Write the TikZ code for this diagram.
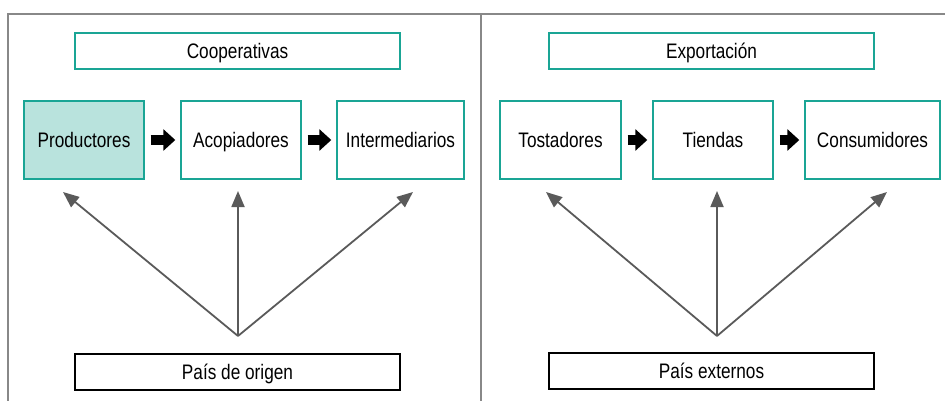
\documentclass[tikz,border=0pt]{standalone}
\usepackage{fontspec}
\setmainfont{Liberation Sans}[FakeStretch=0.82]
\usetikzlibrary{arrows.meta}
\definecolor{teal1}{HTML}{1AA595}
\definecolor{tealfill}{HTML}{B9E3DD}
\definecolor{arrowgray}{HTML}{5A5A5A}
\definecolor{framegray}{HTML}{888888}
\begin{document}
\begin{tikzpicture}[x=1pt,y=-1pt,
  txt/.style={inner sep=0pt, text height=15pt, text depth=0pt, font=\fontsize{21}{24}\selectfont},
  tbox/.style={txt, draw=teal1, line width=1.4pt, minimum width=#1, minimum height=78pt},
  hbox/.style={txt, draw=teal1, line width=1.4pt, minimum width=325pt, minimum height=36pt},
  bbox/.style={txt, draw=black, line width=1.3pt, minimum width=325pt, minimum height=36pt},
  blockarrow/.style={line width=10pt, -{Triangle[length=12pt,width=21pt]}, shorten <=6pt, shorten >=5pt},
  grayarrow/.style={draw=arrowgray, line width=1.8pt, -{Triangle[length=16pt,width=13pt]}},
  frame/.style={draw=framegray, line width=1.4pt}]
\useasboundingbox (0,0) rectangle (945,401);
% frame
\coordinate (ftl) at (8,14);
\coordinate (ftr) at (945,14);
\coordinate (fbl) at (8,401);
\coordinate (dt) at (481,14);
\coordinate (db) at (481,401);
\draw[frame] (fbl) -- (ftl) -- (ftr);
\draw[frame] (dt) -- (db);
% left half
\node[hbox] (coop) at (237.5,51) {Cooperativas};
\node[tbox=120pt, fill=tealfill] (prod) at (84,140) {Productores};
\node[tbox=120pt] (acop) at (241,140) {Acopiadores};
\node[tbox=127pt] (inter) at (400.5,140) {Intermediarios};
\node[bbox] (origen) at (237.5,372) {País de origen};
\draw[blockarrow] (prod.east) -- (acop.west);
\draw[blockarrow] (acop.east) -- (inter.west);
\coordinate (apexL) at (238,336);
\coordinate (tL1) at (63,192);
\coordinate (tL2) at (238,191);
\coordinate (tL3) at (413,192);
\draw[grayarrow] (apexL) -- (tL1);
\draw[grayarrow] (apexL) -- (tL2);
\draw[grayarrow] (apexL) -- (tL3);
% right half
\node[hbox] (expo) at (711.5,51) {Exportación};
\node[tbox=121pt] (tost) at (560.5,140) {Tostadores};
\node[tbox=120pt] (tien) at (713,140) {Tiendas};
\node[tbox=135pt] (cons) at (872.5,140) {Consumidores};
\node[bbox] (externos) at (711.5,371) {País externos};
\draw[blockarrow] (tost.east) -- (tien.west);
\draw[blockarrow] (tien.east) -- (cons.west);
\coordinate (apexR) at (717,336);
\coordinate (tR1) at (546,192);
\coordinate (tR2) at (717,191);
\coordinate (tR3) at (887,192);
\draw[grayarrow] (apexR) -- (tR1);
\draw[grayarrow] (apexR) -- (tR2);
\draw[grayarrow] (apexR) -- (tR3);
\end{tikzpicture}
\end{document}
